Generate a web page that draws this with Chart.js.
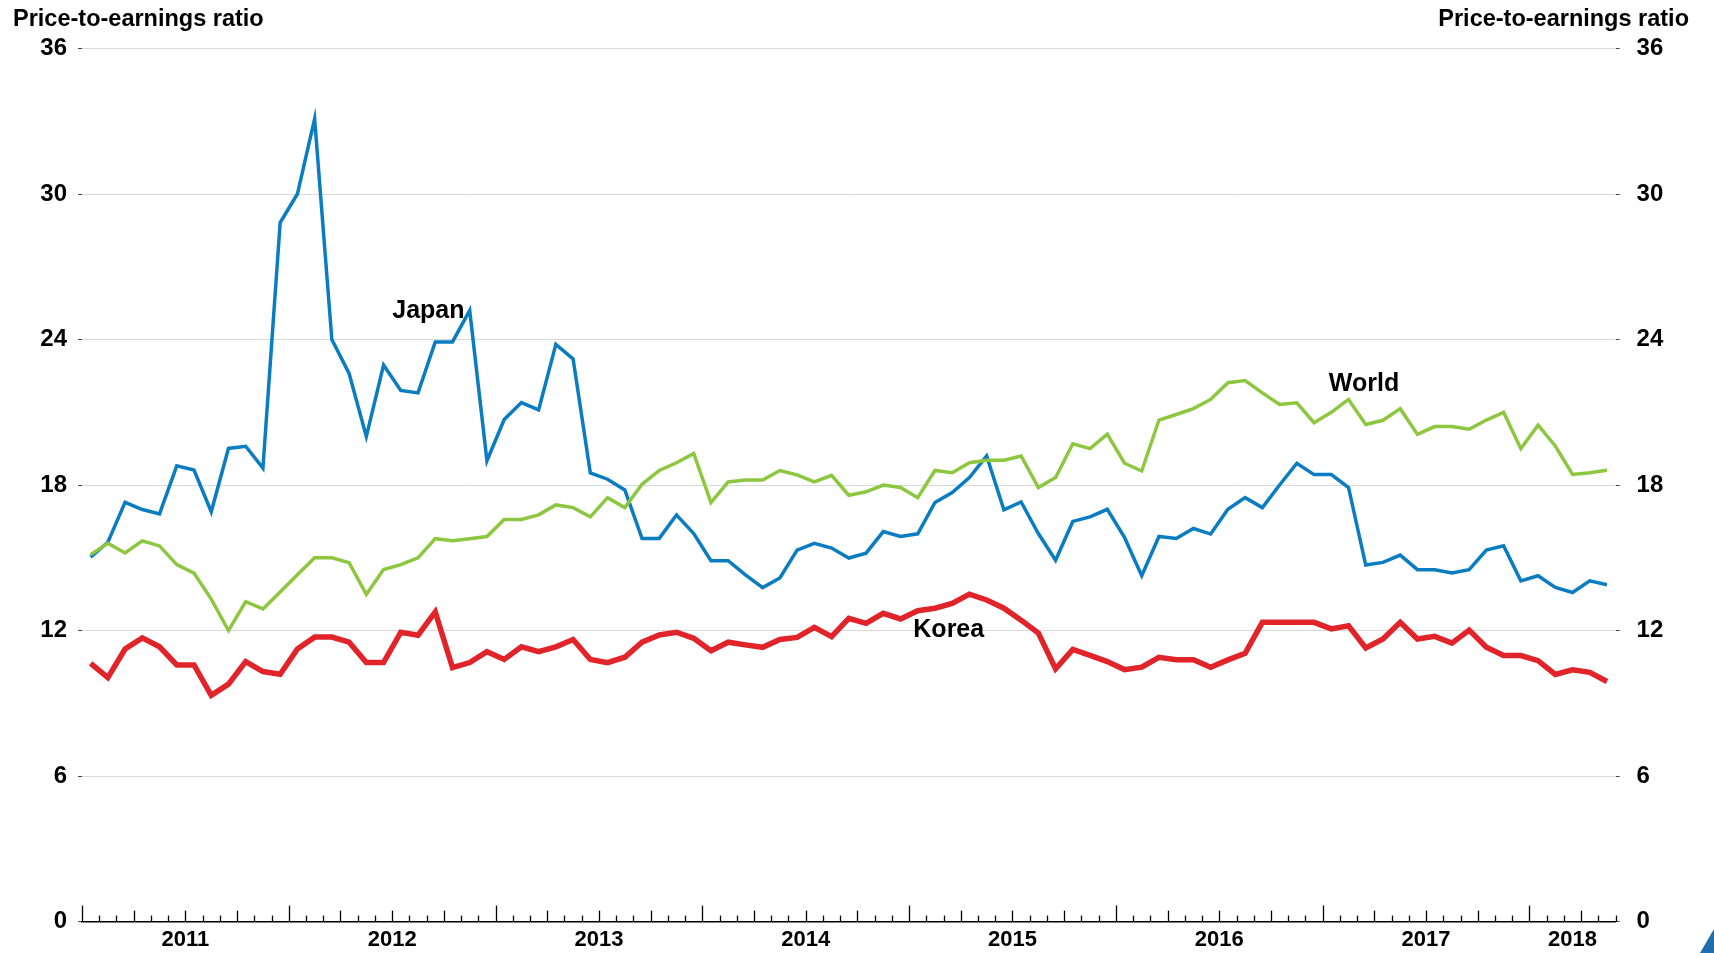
<!DOCTYPE html>
<html>
<head>
<meta charset="utf-8">
<script src="https://cdn.jsdelivr.net/npm/chart.js@4.4.0/dist/chart.umd.min.js"></script>
<style>
html,body{margin:0;padding:0;background:#fff;}
#wrap{position:relative;width:1714px;height:953px;overflow:hidden;background:#fff;}
canvas{display:block;}
#logo{position:absolute;right:0;bottom:0;width:0;height:0;border-style:solid;border-width:0 0 24px 14px;border-color:transparent transparent #1f6fae transparent;}
</style>
</head>
<body>
<div id="wrap"><canvas id="c" width="1714" height="953"></canvas><div id="logo"></div></div>
<script>
// Monthly categories
const months = [
  "2011-01","2011-02","2011-03","2011-04","2011-05","2011-06","2011-07","2011-08","2011-09","2011-10","2011-11","2011-12",
  "2012-01","2012-02","2012-03","2012-04","2012-05","2012-06","2012-07","2012-08","2012-09","2012-10","2012-11","2012-12",
  "2013-01","2013-02","2013-03","2013-04","2013-05","2013-06","2013-07","2013-08","2013-09","2013-10","2013-11","2013-12",
  "2014-01","2014-02","2014-03","2014-04","2014-05","2014-06","2014-07","2014-08","2014-09","2014-10","2014-11","2014-12",
  "2015-01","2015-02","2015-03","2015-04","2015-05","2015-06","2015-07","2015-08","2015-09","2015-10","2015-11","2015-12",
  "2016-01","2016-02","2016-03","2016-04","2016-05","2016-06","2016-07","2016-08","2016-09","2016-10","2016-11","2016-12",
  "2017-01","2017-02","2017-03","2017-04","2017-05","2017-06","2017-07","2017-08","2017-09","2017-10","2017-11","2017-12",
  "2018-01","2018-02","2018-03","2018-04","2018-05"
];

// Price-to-earnings ratios
const japan = [
  15.03,15.64,17.29,16.99,16.81,18.79,18.62,16.90,19.51,19.60,18.70,28.82,
  30.00,33.10,24.00,22.60,20.00,22.95,21.90,21.80,23.90,23.90,25.20,19.00,
  20.70,21.40,21.10,23.80,23.20,18.50,18.24,17.80,15.80,15.80,16.77,16.00,
  14.88,14.88,14.30,13.77,14.17,15.32,15.60,15.40,14.99,15.19,16.08,15.88,
  15.99,17.28,17.69,18.31,19.20,16.98,17.30,16.00,14.90,16.50,16.69,17.00,
  15.84,14.26,15.88,15.80,16.21,15.98,17.00,17.48,17.07,18.00,18.90,18.43,
  18.43,17.90,14.70,14.81,15.11,14.51,14.51,14.37,14.51,15.32,15.50,14.05,
  14.26,13.78,13.57,14.05,13.89
];
const world = [
  15.13,15.60,15.20,15.70,15.49,14.72,14.37,13.30,12.00,13.19,12.89,13.59,
  14.30,15.00,15.00,14.80,13.49,14.52,14.72,15.00,15.79,15.70,15.79,15.88,
  16.58,16.58,16.77,17.18,17.07,16.69,17.48,17.07,18.03,18.60,18.92,19.30,
  17.28,18.13,18.21,18.21,18.60,18.42,18.13,18.40,17.58,17.72,18.00,17.90,
  17.48,18.60,18.51,18.92,19.02,19.02,19.20,17.90,18.31,19.70,19.50,20.10,
  18.90,18.58,20.68,20.91,21.15,21.53,22.22,22.31,21.80,21.32,21.39,20.57,
  21.00,21.53,20.50,20.67,21.15,20.09,20.41,20.41,20.30,20.68,21.00,19.50,
  20.47,19.61,18.44,18.51,18.61
];
const korea = [
  10.65,10.06,11.24,11.70,11.33,10.58,10.58, 9.33, 9.79,10.72,10.31,10.20,
  11.24,11.73,11.73,11.52,10.68,10.68,11.93,11.81,12.77,10.47,10.68,11.13,
  10.81,11.33,11.13,11.33,11.63,10.81,10.68,10.90,11.52,11.82,11.93,11.68,
  11.17,11.52,11.41,11.31,11.63,11.72,12.13,11.75,12.50,12.30,12.71,12.48,
  12.82,12.92,13.12,13.50,13.26,12.92,12.43,11.90,10.42,11.22,10.98,10.72,
  10.39,10.49,10.90,10.80,10.80,10.49,10.79,11.06,12.34,12.34,12.34,12.34,
  12.07,12.20,11.28,11.65,12.34,11.65,11.76,11.48,12.02,11.31,10.97,10.97,
  10.76,10.19,10.38,10.28, 9.90
];
const yTickValues = [0, 6, 12, 18, 24, 30, 36];
const axisTitle = "Price-to-earnings ratio";
const seriesNames = ["Japan", "World", "Korea"];

const FONT = '"Liberation Sans", Arial, Helvetica, sans-serif';
const pts = arr => arr.map((v, i) => ({ x: i + 0.5, y: v }));

// year label positions derived from the month categories
const yearTicks = (() => {
  const order = [], span = {};
  months.forEach((m, i) => {
    const y = m.slice(0, 4);
    if (!(y in span)) { span[y] = { f: i, l: i }; order.push(y); } else span[y].l = i;
  });
  return order.map(y => ({ value: (span[y].f + span[y].l + 1) / 2, label: y }));
})();

const upTicks = {
  id: 'upTicks',
  afterDraw(chart) {
    const xs = chart.scales.x, ys = chart.scales.y, c = chart.ctx;
    const b = ys.getPixelForValue(0);
    c.save();
    c.strokeStyle = '#000';
    c.lineWidth = 1.3;
    for (let i = 0; i <= months.length; i++) {
      const mo = i < months.length ? +months[i].slice(5, 7) : (+months[i - 1].slice(5, 7)) % 12 + 1;
      const h = mo === 1 ? 16 : ((mo - 1) % 3 === 0 ? 11 : 6);
      const x = Math.round(xs.getPixelForValue(i)) + 0.5;
      c.beginPath(); c.moveTo(x, b); c.lineTo(x, b - h); c.stroke();
    }
    c.restore();
  }
};

const texts = {
  id: 'texts',
  afterDraw(chart) {
    const c = chart.ctx, xs = chart.scales.x, ys = chart.scales.y;
    c.save();
    c.fillStyle = '#000';
    c.textBaseline = 'alphabetic';
    c.font = 'bold 23.5px ' + FONT;
    c.textAlign = 'left';
    c.fillText(axisTitle, 13, 26);
    c.textAlign = 'right';
    c.fillText(axisTitle, 1689, 26);
    // series labels
    const anchors = { Japan: [20.1, 25.17], World: [74.4, 22.15], Korea: [50.3, 12.02] };
    c.font = 'bold 25px ' + FONT;
    c.textAlign = 'center';
    c.textBaseline = 'middle';
    seriesNames.forEach(n => {
      const a = anchors[n];
      c.fillText(n, xs.getPixelForValue(a[0]), ys.getPixelForValue(a[1]));
    });
    c.restore();
  }
};

const yTickFont = { family: FONT, size: 24, weight: 'bold' };

new Chart(document.getElementById('c').getContext('2d'), {
  type: 'line',
  data: {
    datasets: [
      { label: 'World', data: pts(world), borderColor: '#8dc63f', borderWidth: 3.5, pointRadius: 0, tension: 0, yAxisID: 'y', borderJoinStyle: 'miter' },
      { label: 'Japan', data: pts(japan), borderColor: '#0a7dc2', borderWidth: 3.5, pointRadius: 0, tension: 0, yAxisID: 'y', borderJoinStyle: 'miter' },
      { label: 'Korea', data: pts(korea), borderColor: '#e1232a', borderWidth: 5.5, pointRadius: 0, tension: 0, yAxisID: 'y', borderJoinStyle: 'miter' }
    ]
  },
  options: {
    responsive: false,
    animation: false,
    devicePixelRatio: 1,
    layout: { padding: { top: 48.5, left: 0, right: 0, bottom: 0 } },
    plugins: { legend: { display: false }, tooltip: { enabled: false } },
    scales: {
      x: {
        type: 'linear', min: 0, max: months.length, position: 'bottom', z: 1,
        afterBuildTicks: s => { s.ticks = yearTicks.map(t => ({ value: t.value })); },
        afterFit: s => { s.height = 28.5; },
        ticks: { autoSkip: false, maxRotation: 0, padding: 5, color: '#000',
          font: { family: FONT, size: 22, weight: 'bold' },
          callback: (v, i) => yearTicks[i] ? yearTicks[i].label : '' },
        grid: { display: false, drawTicks: false },
        border: { display: true, color: '#000', width: 1.5 }
      },
      y: {
        position: 'left', min: 0, max: 36,
        afterBuildTicks: s => { s.ticks = yTickValues.map(v => ({ value: v })); },
        afterFit: s => { s.width = 82; },
        ticks: { padding: 11, color: '#000', font: yTickFont },
        grid: { color: c => (c.tick && c.tick.value === 0) ? 'rgba(0,0,0,0)' : '#d9d9d9', lineWidth: 1, tickColor: '#444', tickLength: 4 },
        border: { display: false }
      },
      y2: {
        position: 'right', min: 0, max: 36,
        afterBuildTicks: s => { s.ticks = yTickValues.map(v => ({ value: v })); },
        afterFit: s => { s.width = 98.4; },
        ticks: { padding: 17, color: '#000', font: yTickFont },
        grid: { drawOnChartArea: false, tickColor: '#444', tickLength: 4 },
        border: { display: false }
      }
    }
  },
  plugins: [upTicks, texts]
});
</script>
</body>
</html>
